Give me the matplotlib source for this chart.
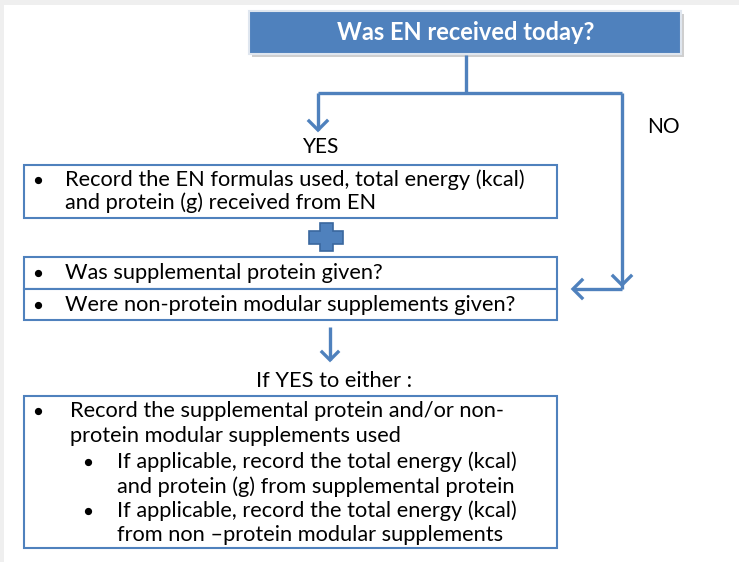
import matplotlib
matplotlib.use("Agg")
import matplotlib.pyplot as plt
from matplotlib.patches import Rectangle, Polygon

# ---- content ----
question = "Was EN received today?"
yes_label = "YES"
no_label = "NO"
box1_lines = ["Record the EN formulas used, total energy (kcal)",
              "and protein (g) received from EN"]
box2_lines = ["Was supplemental protein given?",
              "Were non-protein modular supplements given?"]
either_label = "If YES to either :"
box3_main = ["Record the supplemental protein and/or non-",
             "protein modular supplements used"]
box3_sub1 = ["If applicable, record the total energy (kcal)",
             "and protein (g) from supplemental protein"]
box3_sub2 = ["If applicable, record the total energy (kcal)",
             "from non \u2013protein modular supplements"]

BLUE = "#4F81BD"
FONT = ["Lato", "DejaVu Sans"]
FS = 15.7

fig = plt.figure(figsize=(7.39, 5.62), dpi=100)
ax = fig.add_axes([0, 0, 1, 1])
ax.set_xlim(0, 739)
ax.set_ylim(562, 0)
ax.axis("off")

# light gray margins
ax.add_patch(Rectangle((0, 0), 739, 5, facecolor="#efefef", edgecolor="none"))
ax.add_patch(Rectangle((0, 0), 4, 562, facecolor="#efefef", edgecolor="none"))

# top box with shadow
ax.add_patch(Rectangle((252, 14), 432, 43, facecolor="#b0b0b0", edgecolor="none", alpha=0.6))
ax.add_patch(Rectangle((249, 11), 432, 43, facecolor=BLUE, edgecolor="#dfe6ef", lw=1.5))
ax.text(466, 33, question, color="white", fontsize=17, fontweight="bold",
        ha="center", va="center", family=FONT)

lw = 2.4
def line(xs, ys):
    ax.plot(xs, ys, color=BLUE, lw=lw, solid_capstyle="butt", solid_joinstyle="miter")

def chevron(x, y, direction, size=9):
    if direction == "down":
        ax.plot([x - size, x, x + size], [y - size, y, y - size], color=BLUE, lw=lw,
                solid_joinstyle="miter")
    elif direction == "left":
        ax.plot([x + size, x, x + size], [y - size, y, y + size], color=BLUE, lw=lw,
                solid_joinstyle="miter")

# connectors
line([466, 466], [55, 93])
line([318, 622], [93, 93])
line([318, 318], [93, 130])
chevron(318, 130, "down")
line([622, 622], [93, 289])
chevron(622, 285, "down")
line([622, 573], [289, 289])
chevron(573, 289, "left")

ax.text(321, 147, yes_label, fontsize=15, ha="center", va="center", family=FONT)
ax.text(663, 127, no_label, fontsize=15, ha="center", va="center", family=FONT)

def box(x0, y0, x1, y1):
    ax.add_patch(Rectangle((x0, y0), x1 - x0, y1 - y0, facecolor="white",
                           edgecolor=BLUE, lw=1.5))

def bullet(x, y):
    ax.plot([x], [y], marker="o", ms=4.2, color="black", mec="black")

# box 1
box(24, 165, 557, 218)
for i, t in enumerate(box1_lines):
    y = 180 + i * 23
    if i == 0:
        bullet(38, y)
    ax.text(65, y, t, fontsize=FS, ha="left", va="center", family=FONT)

# plus sign
cx, cy, ax_h, ay_h, h = 326, 237, 17, 14, 6.5
ax.add_patch(Polygon([(cx - h, cy - ay_h), (cx + h, cy - ay_h), (cx + h, cy - h),
                      (cx + ax_h, cy - h), (cx + ax_h, cy + h), (cx + h, cy + h),
                      (cx + h, cy + ay_h), (cx - h, cy + ay_h), (cx - h, cy + h),
                      (cx - ax_h, cy + h), (cx - ax_h, cy - h), (cx - h, cy - h)],
                     closed=True, facecolor=BLUE, edgecolor="#3a679e", lw=1.2))

# box 2
box(24, 257, 557, 289)
box(24, 289, 557, 320)
for i, t in enumerate(box2_lines):
    y = 273 + i * 32
    bullet(38, y)
    ax.text(65, y, t, fontsize=FS, ha="left", va="center", family=FONT)

# arrow down
line([330, 330], [327, 360])
chevron(330, 360, "down", size=8)
ax.text(334, 381, either_label, fontsize=FS, ha="center", va="center", family=FONT)

# box 3
box(24, 396, 557, 548)
ys = [411, 436, 462, 487, 511, 535]
for i, t in enumerate(box3_main):
    if i == 0:
        bullet(38, ys[i])
    ax.text(70, ys[i], t, fontsize=FS, ha="left", va="center", family=FONT)
for j, sub in enumerate([box3_sub1, box3_sub2]):
    for k, t in enumerate(sub):
        y = ys[2 + 2 * j + k]
        if k == 0:
            bullet(88, y)
        ax.text(117, y, t, fontsize=FS, ha="left", va="center", family=FONT)

fig.savefig("out.png", dpi=100)
